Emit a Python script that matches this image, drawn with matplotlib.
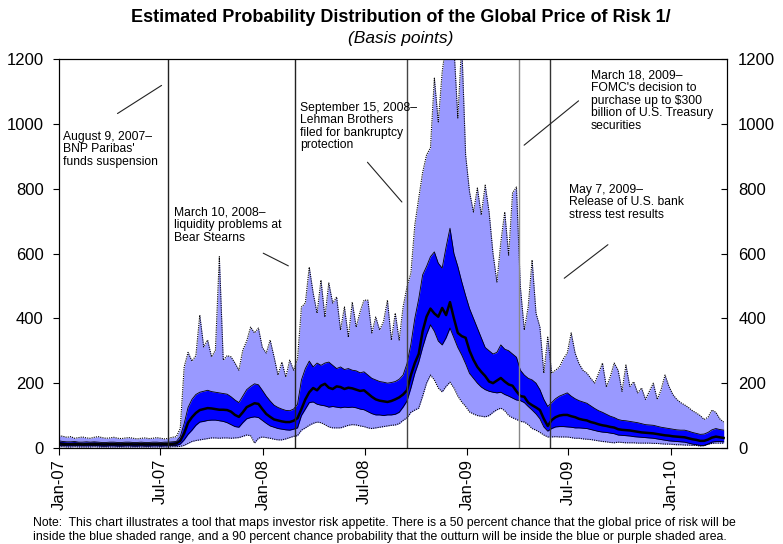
import numpy as np
import pandas as pd
import matplotlib
matplotlib.use('Agg')
import matplotlib.pyplot as plt
import matplotlib.dates as mdates

plt.rcParams['font.family'] = ['Liberation Sans', 'DejaVu Sans']

dates = pd.date_range('2007-01-01', periods=171, freq='7D')

median = [14, 13, 12, 12, 13, 12, 11, 12, 12, 13,
          12, 11, 11, 12, 12, 11, 11, 12, 12, 11,
          11, 12, 11, 11, 12, 12, 11, 12, 12, 13,
          14, 22, 45, 78, 95, 108, 117, 120, 123, 122,
          120, 118, 118, 117, 112, 102, 96, 110, 126, 132,
          138, 136, 120, 105, 96, 88, 85, 82, 80, 80,
          84, 92, 120, 150, 172, 185, 178, 192, 198, 186,
          182, 190, 188, 182, 186, 184, 180, 176, 178, 168,
          158, 150, 146, 144, 142, 145, 150, 156, 165, 178,
          225, 262, 290, 360, 405, 430, 415, 405, 432, 410,
          450, 400, 355, 345, 340, 300, 272, 250, 235, 222,
          205, 200, 208, 216, 205, 196, 192, 175, 160, 158,
          140, 132, 125, 117, 90, 68, 86, 95, 100, 102,
          102, 98, 95, 90, 87, 85, 80, 77, 73, 70,
          68, 65, 63, 58, 56, 55, 54, 52, 50, 48,
          47, 46, 45, 43, 41, 39, 38, 36, 35, 34,
          33, 30, 27, 25, 22, 22, 26, 32, 35, 33,
          31]

upper50 = [22, 20, 19, 19, 20, 18, 18, 19, 18, 19,
           18, 17, 17, 18, 18, 17, 17, 18, 18, 17,
           17, 18, 17, 17, 18, 18, 17, 18, 18, 19,
           20, 35, 75, 125, 150, 165, 172, 175, 178, 174,
           172, 170, 168, 166, 158, 148, 140, 160, 180, 190,
           198, 195, 178, 160, 145, 132, 125, 120, 116, 115,
           120, 135, 210, 245, 268, 250, 262, 255, 262, 265,
           255, 245, 250, 242, 245, 240, 238, 232, 235, 225,
           215, 210, 205, 203, 200, 202, 205, 212, 225, 260,
           320, 400, 460, 534, 560, 590, 605, 570, 555, 620,
           678, 600, 560, 513, 470, 430, 400, 370, 340, 310,
           300, 290, 295, 318, 305, 300, 290, 280, 240, 225,
           215, 210, 200, 180, 150, 128, 140, 152, 160, 165,
           170, 160, 152, 146, 142, 138, 130, 122, 115, 110,
           104, 98, 94, 88, 85, 84, 82, 80, 78, 75,
           72, 71, 70, 67, 64, 62, 60, 58, 56, 55,
           55, 52, 48, 45, 42, 43, 48, 56, 60, 57,
           55]

lower50 = [8, 8, 7, 7, 8, 7, 7, 7, 7, 8,
           7, 6, 6, 7, 7, 6, 6, 7, 7, 6,
           6, 7, 6, 6, 7, 7, 6, 7, 7, 8,
           8, 12, 25, 42, 55, 70, 80, 82, 85, 86,
           86, 84, 82, 78, 72, 66, 64, 78, 90, 94,
           96, 94, 85, 76, 68, 64, 60, 58, 56, 55,
           58, 62, 100, 120, 140, 142, 135, 132, 130, 126,
           128, 126, 124, 126, 125, 126, 124, 120, 118, 112,
           106, 102, 102, 100, 102, 102, 104, 110, 126, 145,
           185, 230, 265, 310, 350, 380, 360, 330, 318, 340,
           370, 340, 310, 287, 260, 230, 215, 200, 188, 180,
           175, 172, 170, 172, 165, 160, 154, 148, 146, 140,
           128, 117, 105, 90, 65, 52, 60, 65, 66, 66,
           65, 64, 62, 62, 61, 60, 57, 54, 51, 49,
           48, 46, 44, 40, 39, 38, 37, 35, 34, 33,
           32, 31, 30, 28, 26, 24, 22, 21, 20, 19,
           18, 15, 12, 10, 8, 8, 12, 18, 20, 20,
           19]

lower90 = [4, 4, 3, 3, 4, 3, 3, 3, 3, 4,
           3, 3, 3, 3, 3, 3, 3, 3, 3, 3,
           3, 3, 3, 3, 3, 3, 3, 3, 3, 4,
           4, 5, 8, 14, 20, 23, 25, 27, 29, 31,
           31, 30, 31, 31, 30, 31, 32, 36, 40, 38,
           15, 30, 34, 32, 30, 27, 25, 25, 28, 32,
           36, 38, 55, 62, 70, 76, 80, 78, 72, 65,
           62, 62, 62, 66, 70, 72, 71, 68, 66, 62,
           60, 62, 64, 66, 68, 70, 71, 75, 85, 93,
           110, 117, 123, 160, 200, 225, 210, 185, 173, 190,
           203, 185, 160, 142, 128, 111, 105, 100, 98, 96,
           100, 110, 118, 123, 115, 100, 93, 88, 82, 80,
           72, 60, 55, 48, 40, 34, 34, 35, 34, 34,
           34, 32, 30, 30, 28, 27, 26, 24, 22, 20,
           19, 17, 16, 18, 17, 16, 16, 16, 15, 15,
           15, 15, 14, 14, 13, 12, 12, 11, 10, 10,
           9, 9, 8, 8, 6, 7, 12, 14, 15, 15,
           15]

upper90 = [38, 36, 33, 35, 30, 32, 34, 31, 30, 33,
           35, 32, 30, 31, 33, 30, 29, 31, 32, 30,
           28, 30, 31, 29, 30, 32, 30, 28, 30, 33,
           35, 60, 250, 295, 268, 285, 410, 312, 333, 281,
           302, 590, 271, 285, 281, 262, 240, 302, 330, 373,
           355, 370, 310, 293, 333, 281, 225, 265, 219, 271,
           240, 275, 435, 447, 558, 478, 416, 518, 404, 509,
           447, 466, 364, 435, 342, 450, 373, 420, 456, 456,
           355, 404, 364, 390, 456, 333, 416, 333, 435, 497,
           540, 688, 771, 850, 904, 926, 1141, 1006, 1160, 1250,
           1260, 1240, 1018, 1250, 904, 790, 728, 802, 719, 811,
           728, 600, 512, 635, 728, 595, 787, 805, 497, 364,
           435, 580, 416, 373, 231, 342, 231, 240, 250, 275,
           293, 355, 293, 260, 240, 231, 215, 200, 230, 262,
           188, 220, 262, 240, 175, 256, 190, 204, 170, 185,
           150, 175, 200, 150, 180, 225, 190, 165, 150, 140,
           133, 125, 115, 108, 100, 88, 95, 117, 110, 90,
           80]

events = ['2007-07-15', '2008-02-27', '2008-09-15', '2009-04-03', '2009-05-29']
event_colors = ['#222222', '#222222', '#444444', '#888888', '#333333']

notes = [
    ("August 9, 2007\u2013\nBNP Paribas'\nfunds suspension", (0.006, 0.815), (0.084, 0.856), (0.157, 0.936)),
    ("March 10, 2008\u2013\nliquidity problems at\nBear Stearns", (0.172, 0.620), (0.302, 0.504), (0.347, 0.465)),
    ("September 15, 2008\u2013\nLehman Brothers\nfiled for bankruptcy\nprotection", (0.361, 0.890), (0.459, 0.740), (0.516, 0.627)),
    ("March 18, 2009\u2013\nFOMC's decision to\npurchase up to $300\nbillion of U.S. Treasury\nsecurities", (0.796, 0.972), (0.693, 0.774), (0.781, 0.897)),
    ("May 7, 2009\u2013\nRelease of U.S. bank\nstress test results", (0.763, 0.679), (0.753, 0.432), (0.825, 0.527)),
]

fig = plt.figure(figsize=(7.83, 5.44), dpi=100)
ax = fig.add_axes([0.0754, 0.1765, 0.8531, 0.715])

ax.fill_between(dates, lower90, upper90, color='#9999ff', lw=0)
ax.fill_between(dates, lower50, upper50, color='#0000ff', lw=0)
ax.plot(dates, upper90, color='k', lw=0.8, ls=(0, (1, 1)))
ax.plot(dates, lower90, color='k', lw=0.8, ls=(0, (1, 1)))
ax.plot(dates, upper50, color='k', lw=0.6)
ax.plot(dates, lower50, color='k', lw=0.6)
ax.plot(dates, median, color='k', lw=1.8)

for d, c in zip(events, event_colors):
    ax.axvline(pd.Timestamp(d), color=c, lw=1)

for txt, pos, p0, p1 in notes:
    ax.text(pos[0], pos[1], txt, transform=ax.transAxes, ha='left', va='top',
            fontsize=8.7, linespacing=1.05)
    ax.annotate('', xy=p1, xytext=p0, xycoords='axes fraction',
                textcoords='axes fraction',
                arrowprops=dict(arrowstyle='-', color='#222222', lw=0.8))

ax.set_xlim(pd.Timestamp('2007-01-01'), pd.Timestamp('2010-04-11'))
ax.set_ylim(0, 1200)
ax.set_yticks(range(0, 1201, 200))
ax.xaxis.set_major_locator(mdates.MonthLocator(bymonth=[1, 7]))
ax.xaxis.set_major_formatter(mdates.DateFormatter('%b-%y'))
ax.tick_params(axis='x', direction='out', length=5, labelsize=12, pad=3)
ax.tick_params(axis='y', direction='out', length=4, labelsize=12, pad=7)
plt.setp(ax.get_xticklabels(), rotation=90)

ax2 = ax.twinx()
ax2.set_ylim(0, 1200)
ax2.set_yticks(range(0, 1201, 200))
ax2.tick_params(axis='y', direction='in', length=4, labelsize=12, pad=8)

fig.text(0.512, 0.967, 'Estimated Probability Distribution of the Global Price of Risk 1/',
         ha='center', va='center', fontsize=13, fontweight='bold')
fig.text(0.512, 0.930, '(Basis points)', ha='center', va='center', fontsize=12.5,
         style='italic')
fig.text(0.042, 0.050,
         'Note:  This chart illustrates a tool that maps investor risk appetite. There is a 50 percent chance that the global price of risk will be\n'
         'inside the blue shaded range, and a 90 percent chance probability that the outturn will be inside the blue or purple shaded area.',
         ha='left', va='top', fontsize=8.8, linespacing=1.2)

fig.savefig('out.png', dpi=100)
